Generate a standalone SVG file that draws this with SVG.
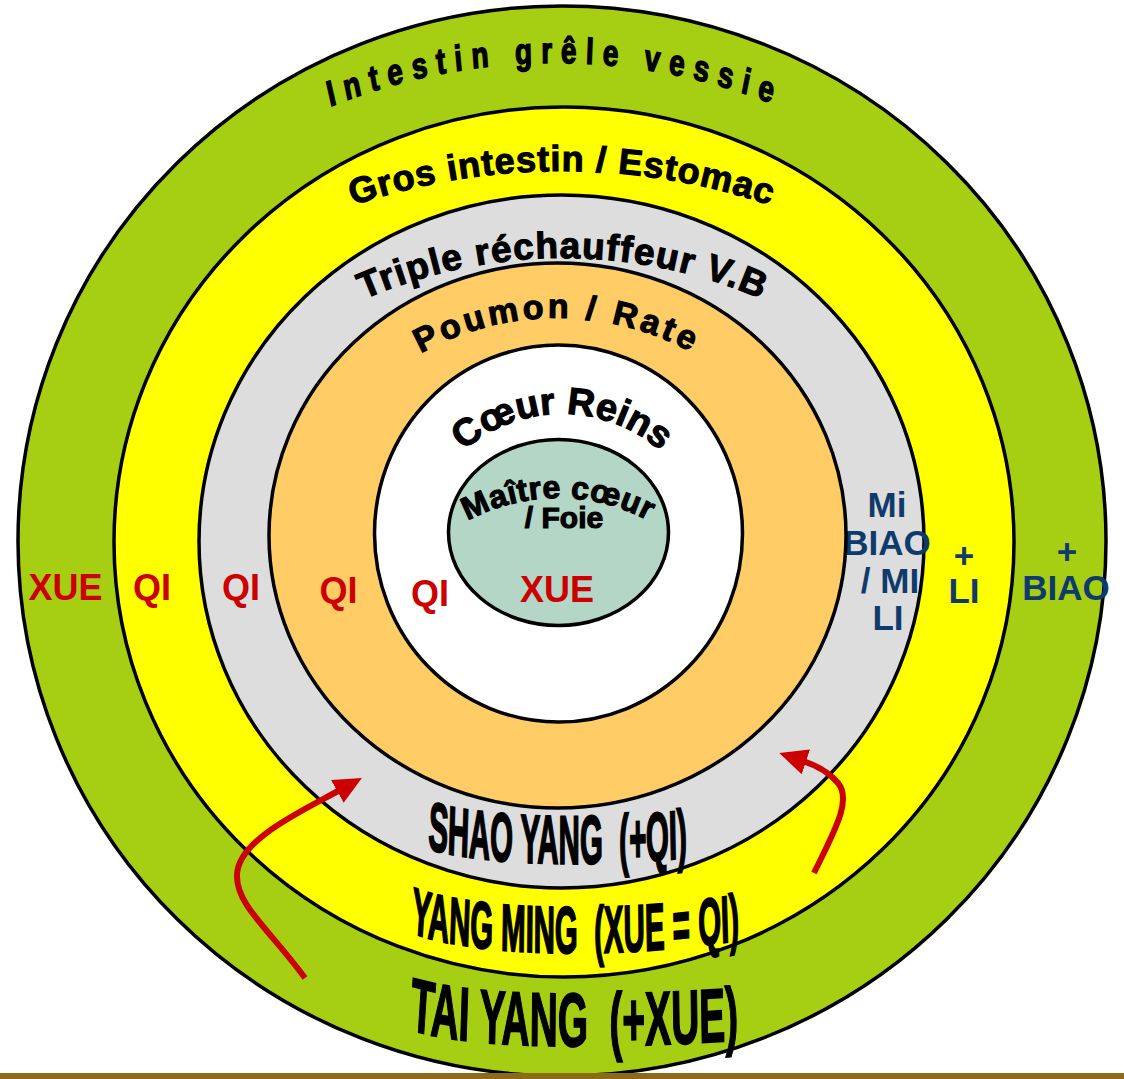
<svg xmlns="http://www.w3.org/2000/svg" xmlns:xlink="http://www.w3.org/1999/xlink" width="1124" height="1079" viewBox="0 0 1124 1079">
<style>
.ring{stroke:#000;stroke-width:3.5}
.lbl{font-family:"Liberation Sans",Arial,sans-serif;font-weight:bold;fill:#000;stroke:#000;stroke-width:1.1}
.warp{font-family:"Liberation Sans",Arial,sans-serif;font-weight:bold;fill:#000;stroke:#000;stroke-width:0.9}
.red{font-family:"Liberation Sans",Arial,sans-serif;font-weight:bold;fill:#cc0000;font-size:36px;text-anchor:middle}
.blue{font-family:"Liberation Sans",Arial,sans-serif;font-weight:bold;fill:#0f3b6c;font-size:35px;text-anchor:middle}
.arrow{fill:none;stroke:#cc0000;stroke-width:6}
</style>
<defs>
<path id="p-intestin" d="M-45,524.5 A600,461.5 0 0 1 1155,524.5"/>
<path id="p-gros" d="M-88,821 A650,650 0 0 1 1212,821"/>
<path id="p-triple" d="M63,758 A500,500 0 0 1 1063,758"/>
<path id="p-poumon" d="M277,598 A280,280 0 0 1 837,598"/>
<path id="p-coeur" d="M412,564 A150,150 0 0 1 712,564"/>
<path id="p-maitre" d="M368,688 A190,190 0 0 1 748,688"/>
<path id="p-shao" d="M365.6,847.7 L425,855.99 C480,863.72 610,864.58 690,859.85 L749.9,856.3"/>
<path id="p-yangming" d="M349,932.1 L408,942.91 C470,954.27 620,955.64 742,946.55 L801.8,942.1"/>
<path id="p-taiyang" d="M343.8,1026.8 L403,1036.77 C470,1048.05 600,1048.05 745,1042.92 L805,1040.8"/>
<marker id="ah" markerUnits="userSpaceOnUse" markerWidth="28" markerHeight="26" viewBox="0 0 28 26" refX="3" refY="13" orient="auto">
<path d="M0,0 L28,13 L0,26 z" fill="#cc0000"/>
</marker>
</defs>

<g id="tai-yang">
<ellipse class="ring" cx="562" cy="541" rx="544" ry="535" fill="#a6ce12"/>
<g transform="translate(0,63) scale(1,1.3) translate(0,-63)">
<text class="lbl" font-size="28" letter-spacing="9" stroke-width="0.9"><textPath xlink:href="#p-intestin" href="#p-intestin" startOffset="50%" text-anchor="middle">Intestin grêle vessie</textPath></text>
</g>
<g transform="translate(0,1046) scale(1,1.95) translate(0,-1046)">
<text class="warp" font-size="39"><textPath xlink:href="#p-taiyang" href="#p-taiyang" startOffset="50%" text-anchor="middle">TAI YANG &#160;(+XUE)</textPath></text>
</g>
<text class="red" x="65.5" y="600">XUE</text>
<text class="blue" x="1067" y="564">+</text>
<text class="blue" x="1066" y="600">BIAO</text>
</g>

<g id="yang-ming">
<ellipse class="ring" cx="564" cy="542" rx="450" ry="435" fill="#ffff00"/>
<text class="lbl" font-size="36" letter-spacing="1"><textPath xlink:href="#p-gros" href="#p-gros" startOffset="50%" text-anchor="middle">Gros intestin / Estomac</textPath></text>
<g transform="translate(0,952) scale(1,2.25) translate(0,-952)">
<text class="warp" font-size="29.5"><textPath xlink:href="#p-yangming" href="#p-yangming" startOffset="50%" text-anchor="middle">YANG MING &#160;(XUE = QI)</textPath></text>
</g>
<text class="red" x="152" y="600">QI</text>
<text class="blue" x="964" y="568">+</text>
<text class="blue" x="964" y="603">LI</text>
</g>

<g id="shao-yang">
<ellipse class="ring" cx="561.5" cy="541.5" rx="362.5" ry="346.5" fill="#dddddd"/>
<text class="lbl" font-size="37" letter-spacing="1.3"><textPath xlink:href="#p-triple" href="#p-triple" startOffset="50%" text-anchor="middle">Triple réchauffeur V.B</textPath></text>
<g transform="translate(0,862) scale(1,2.33) translate(0,-862)">
<text class="warp" font-size="29.5"><textPath xlink:href="#p-shao" href="#p-shao" startOffset="50%" text-anchor="middle">SHAO YANG &#160;(+QI)</textPath></text>
</g>
<text class="red" x="241" y="600">QI</text>
<text class="blue" x="887" y="517">Mi</text>
<text class="blue" x="887" y="555">BIAO</text>
<text class="blue" x="890" y="593">/ MI</text>
<text class="blue" x="888" y="630">LI</text>
</g>

<g id="poumon-rate">
<ellipse class="ring" cx="557.5" cy="535.5" rx="288.5" ry="272.5" fill="#ffcc66"/>
<text class="lbl" font-size="34" letter-spacing="3.6"><textPath xlink:href="#p-poumon" href="#p-poumon" startOffset="50%" text-anchor="middle">Poumon / Rate</textPath></text>
<text class="red" x="338.5" y="603">QI</text>
</g>

<g id="coeur-reins">
<ellipse class="ring" cx="558.5" cy="533.5" rx="184" ry="188.5" fill="#ffffff"/>
<text class="lbl" font-size="38"><textPath xlink:href="#p-coeur" href="#p-coeur" startOffset="50%" text-anchor="middle">Cœur Reins</textPath></text>
<text class="red" x="430" y="606">QI</text>
</g>

<g id="maitre-coeur-foie">
<ellipse class="ring" cx="558.5" cy="532.5" rx="110" ry="93" fill="#b3d6c6"/>
<text class="lbl" font-size="32" letter-spacing="0.5"><textPath xlink:href="#p-maitre" href="#p-maitre" startOffset="50%" text-anchor="middle">Maître cœur</textPath></text>
<text class="lbl" font-size="30" x="564" y="528" text-anchor="middle">/ Foie</text>
<text class="red" x="557" y="602">XUE</text>
</g>

<g id="connectors">
<path class="arrow" d="M305,978 C270,930 236,905 237,875 C238,840 300,812 340,790" marker-end="url(#ah)"/>
<path class="arrow" d="M814,873 C835,830 852,800 838,783 C828,771 815,765 803,761" marker-end="url(#ah)"/>
</g>

<rect x="0" y="1073" width="1124" height="6" fill="#8c6a18"/>
</svg>
